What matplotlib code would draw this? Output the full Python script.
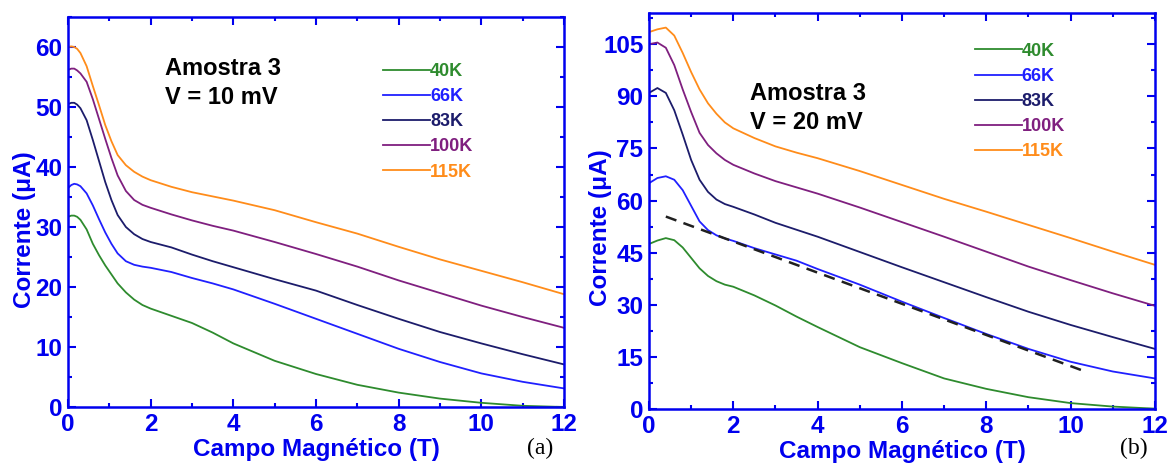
import numpy as np
import matplotlib
matplotlib.use("Agg")
import matplotlib.pyplot as plt
from matplotlib.ticker import MultipleLocator

plt.rcParams['font.family'] = ['Liberation Sans', 'DejaVu Sans']

# ---- data ----
labels = ['40K', '66K', '83K', '100K', '115K']
colors = ['#2e8b2e', '#2020ff', '#1c1c6b', '#7f1f7f', '#ff8c1a']

# panel (a): V = 10 mV
xa = [0, 0.08, 0.15, 0.22, 0.3, 0.45, 0.6, 0.75, 0.9, 1.05, 1.2, 1.4, 1.6, 1.8, 2.0,
      2.5, 3, 3.5, 4, 5, 6, 7, 8, 9, 10, 11, 12]
a_40 = [31.7, 31.9, 31.9, 31.7, 31.2, 29.6, 27.2, 25.3, 23.6, 22.1, 20.6, 19.1, 17.9, 17.0, 16.4,
        15.2, 14.0, 12.4, 10.6, 7.7, 5.5, 3.7, 2.4, 1.4, 0.7, 0.2, 0.0]
a_66 = [36.5, 37.0, 37.2, 37.1, 36.8, 35.6, 33.6, 31.3, 29.1, 27.2, 25.6, 24.3, 23.7, 23.4, 23.2,
        22.5, 21.5, 20.6, 19.6, 17.2, 14.7, 12.2, 9.7, 7.5, 5.6, 4.2, 3.1]
a_83 = [50.5, 50.7, 50.7, 50.4, 49.8, 47.8, 44.5, 41.0, 37.5, 34.5, 32.0, 30.0, 28.8, 28.0, 27.5,
        26.6, 25.4, 24.3, 23.3, 21.3, 19.4, 17.0, 14.7, 12.5, 10.6, 8.8, 7.1]
a_100 = [56.2, 56.4, 56.4, 56.1, 55.6, 54.2, 51.3, 48.0, 44.7, 41.5, 38.6, 36.0, 34.5, 33.7, 33.2,
         32.1, 31.1, 30.2, 29.4, 27.5, 25.5, 23.4, 21.1, 19.0, 16.9, 15.0, 13.2]
a_115 = [60.0, 60.1, 60.0, 59.7, 59.0, 56.8, 53.5, 50.3, 47.0, 44.3, 42.0, 40.3, 39.2, 38.4, 37.8,
         36.7, 35.8, 35.1, 34.4, 32.8, 30.8, 28.9, 26.7, 24.6, 22.7, 20.8, 18.8]

# panel (b): V = 20 mV
xb = [0, 0.2, 0.4, 0.6, 0.8, 1.0, 1.2, 1.4, 1.6, 1.8, 2.0, 2.5, 3, 3.5, 4,
      5, 6, 7, 8, 9, 10, 11, 12]
b_40 = [47.5, 48.5, 49.2, 48.6, 46.5, 43.5, 40.5, 38.3, 36.8, 35.8, 35.2, 32.7, 29.8, 26.6, 23.6,
        17.8, 13.2, 8.8, 5.8, 3.4, 1.7, 0.7, 0.1]
b_66 = [65.0, 66.5, 67.0, 66.0, 63.0, 58.5, 54.0, 51.5, 50.0, 49.1, 48.4, 46.3, 44.5, 42.7, 40.3,
        35.8, 30.9, 26.2, 21.6, 17.3, 13.6, 10.8, 8.8]
b_83 = [91.0, 92.4, 91.0, 86.0, 79.0, 71.7, 66.0, 62.5, 60.3, 59.0, 58.2, 56.0, 53.6, 51.6, 49.6,
        45.2, 40.8, 36.5, 32.2, 28.0, 24.2, 20.7, 17.3]
b_100 = [105.0, 105.5, 104.0, 99.0, 92.0, 85.5, 79.5, 76.0, 73.6, 71.7, 70.3, 67.8, 65.6, 63.8, 62.0,
         58.0, 53.8, 49.6, 45.3, 41.0, 37.1, 33.3, 29.7]
b_115 = [108.5, 109.3, 109.8, 107.5, 102.5, 97.0, 92.0, 88.0, 85.0, 82.5, 80.8, 78.0, 75.6, 73.8, 72.2,
         68.5, 64.5, 60.5, 56.8, 53.0, 49.2, 45.3, 41.5]

# linear guide on the 66K curve of (b)
fit_x = [0.4, 10.3]
fit_y = [55.4, 11.0]

AX_BLUE = '#0000ee'

fig = plt.figure(figsize=(11.71, 4.66), dpi=100)
ax1 = fig.add_axes([0.0581, 0.1266, 0.4235, 0.8369])
ax2 = fig.add_axes([0.5542, 0.1223, 0.4321, 0.8498])


def style(ax, ymax, ystep, ylx, yly):
    ax.set_xlim(0, 12)
    ax.set_ylim(0, ymax)
    ax.xaxis.set_major_locator(MultipleLocator(2))
    ax.xaxis.set_minor_locator(MultipleLocator(1))
    ax.yaxis.set_major_locator(MultipleLocator(ystep))
    ax.yaxis.set_minor_locator(MultipleLocator(ystep / 2))
    for s in ax.spines.values():
        s.set_color(AX_BLUE)
        s.set_linewidth(1.8)
    ax.tick_params(which='both', direction='in', top=True, right=True,
                   color=AX_BLUE, width=1.5)
    ax.tick_params(which='major', length=5.5, pad=4, labelsize=17.5,
                   labelcolor=AX_BLUE)
    ax.tick_params(which='minor', length=3)
    for t in ax.get_xticklabels() + ax.get_yticklabels():
        t.set_fontweight('bold')
    ax.set_xlabel('Campo Magnético (T)', color=AX_BLUE, fontsize=17.5,
                  fontweight='bold', labelpad=2)
    ax.set_ylabel('Corrente (\u03bcA)', color=AX_BLUE, fontsize=17.5,
                  fontweight='bold')
    ax.yaxis.set_label_coords(ylx, yly)


series_a = [a_40, a_66, a_83, a_100, a_115]
series_b = [b_40, b_66, b_83, b_100, b_115]

for ys, c, lab in zip(series_a, colors, labels):
    ax1.plot(xa, ys, color=c, lw=1.3, label=lab)
for ys, c, lab in zip(series_b, colors, labels):
    ax2.plot(xb, ys, color=c, lw=1.3, label=lab)
ax2.plot(fit_x, fit_y, color='#202020', lw=1.8, dashes=(4.5, 3))

style(ax1, 65, 10, -0.064, 0.456)
style(ax2, 114, 15, -0.074, 0.457)

for ax, anchor in [(ax1, (0.635, 0.882)), (ax2, (0.644, 0.925))]:
    leg = ax.legend(loc='upper left', bbox_to_anchor=anchor, frameon=False,
                    handlelength=2.6, handletextpad=0, borderpad=0,
                    borderaxespad=0, labelspacing=0.45, labelcolor='linecolor',
                    prop={'weight': 'bold', 'size': 13})

txt = dict(fontsize=17, fontweight='bold', va='baseline', ha='left')
ax1.text(0.196, 0.851, 'Amostra 3', transform=ax1.transAxes, **txt)
ax1.text(0.196, 0.777, 'V = 10 mV', transform=ax1.transAxes, **txt)
ax2.text(0.2, 0.780, 'Amostra 3', transform=ax2.transAxes, **txt)
ax2.text(0.2, 0.706, 'V = 20 mV', transform=ax2.transAxes, **txt)

fig.text(540 / 1171, 1 - 448 / 466, '(a)', family='Liberation Serif',
         fontsize=17, ha='center', va='center')
fig.text(1134 / 1171, 1 - 448 / 466, '(b)', family='Liberation Serif',
         fontsize=17, ha='center', va='center')

fig.savefig('out.png', dpi=100)
